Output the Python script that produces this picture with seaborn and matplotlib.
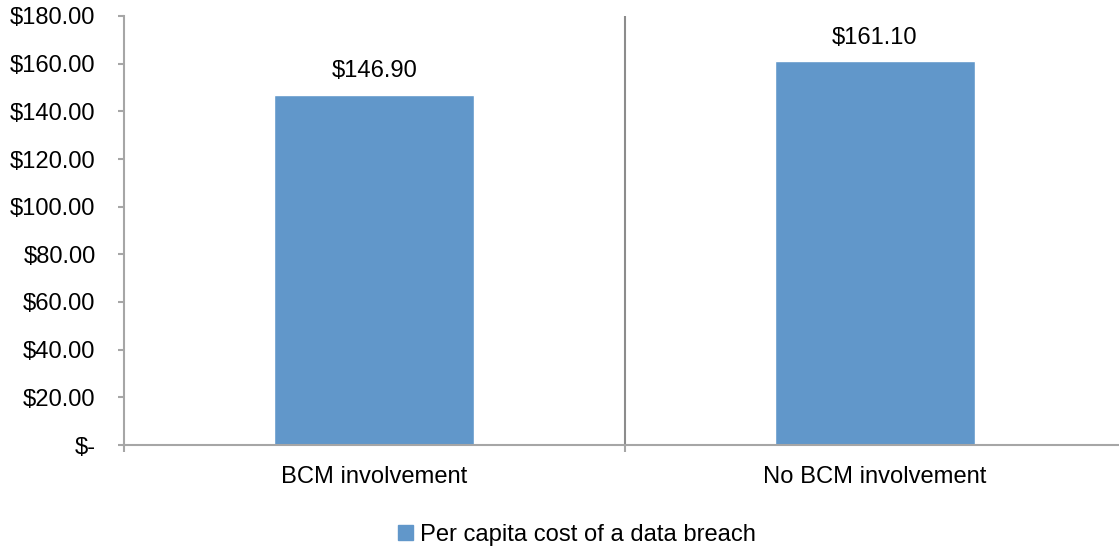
import matplotlib
matplotlib.use("Agg")
import matplotlib.pyplot as plt
import seaborn as sns
import pandas as pd
from matplotlib.patches import Patch
from matplotlib.ticker import FixedLocator

categories = ["BCM involvement", "No BCM involvement"]
values = [146.90, 161.10]
series_name = "Per capita cost of a data breach"
yticks = [0, 20, 40, 60, 80, 100, 120, 140, 160, 180]

sns.set_style("white")
plt.rcParams['font.family'] = ['Liberation Sans', 'DejaVu Sans']
plt.rcParams['text.color'] = 'black'
plt.rcParams['xtick.color'] = 'black'
plt.rcParams['ytick.color'] = 'black'

df = pd.DataFrame({"cat": categories, "val": values})
bar_color = "#6197CA"
axis_color = "#A6A6A6"
fs = 17.1

fig = plt.figure(figsize=(11.19, 5.46), dpi=100)
ax = fig.add_axes([124/1119, 101/546, 1001/1119, 429/546])
sns.barplot(data=df, x="cat", y="val", color=bar_color, width=0.4, saturation=1, ax=ax)
ax.set_xlim(-0.5, 1.5)
ax.set_ylim(0, 180)
ax.set_yticks(yticks)
ax.set_yticklabels(["$-" if v == 0 else f"${v:.2f}" for v in yticks], fontsize=fs)
ax.set_xlabel("")
ax.set_ylabel("")
ax.tick_params(axis='x', which='major', length=0, labelsize=fs, pad=15, labelcolor='black')
ax.xaxis.set_minor_locator(FixedLocator([-0.5, 0.5, 1.5]))
ax.tick_params(axis='x', which='minor', bottom=True, length=5, width=1.5, color=axis_color, direction='out')
ax.tick_params(axis='y', which='major', left=True, length=4.5, width=1.5, color=axis_color,
               direction='out', pad=16, labelcolor='black')
for s in ["top", "right"]:
    ax.spines[s].set_visible(False)
for s in ["left", "bottom"]:
    ax.spines[s].set_color(axis_color)
    ax.spines[s].set_linewidth(1.5)
ax.axvline(0.5, color="#8C8C8C", lw=1.5, zorder=0)
for c in ax.containers:
    ax.bar_label(c, labels=[f"${v:.2f}" for v in values], padding=9, fontsize=fs, color='black')

ax.legend(handles=[Patch(color=bar_color, label=series_name)], loc="center",
          bbox_to_anchor=(577/1119, 11/546), bbox_transform=fig.transFigure,
          frameon=False, fontsize=fs, handlelength=0.6, handleheight=0.6, handletextpad=0.3)

fig.savefig("out.png", dpi=100)
